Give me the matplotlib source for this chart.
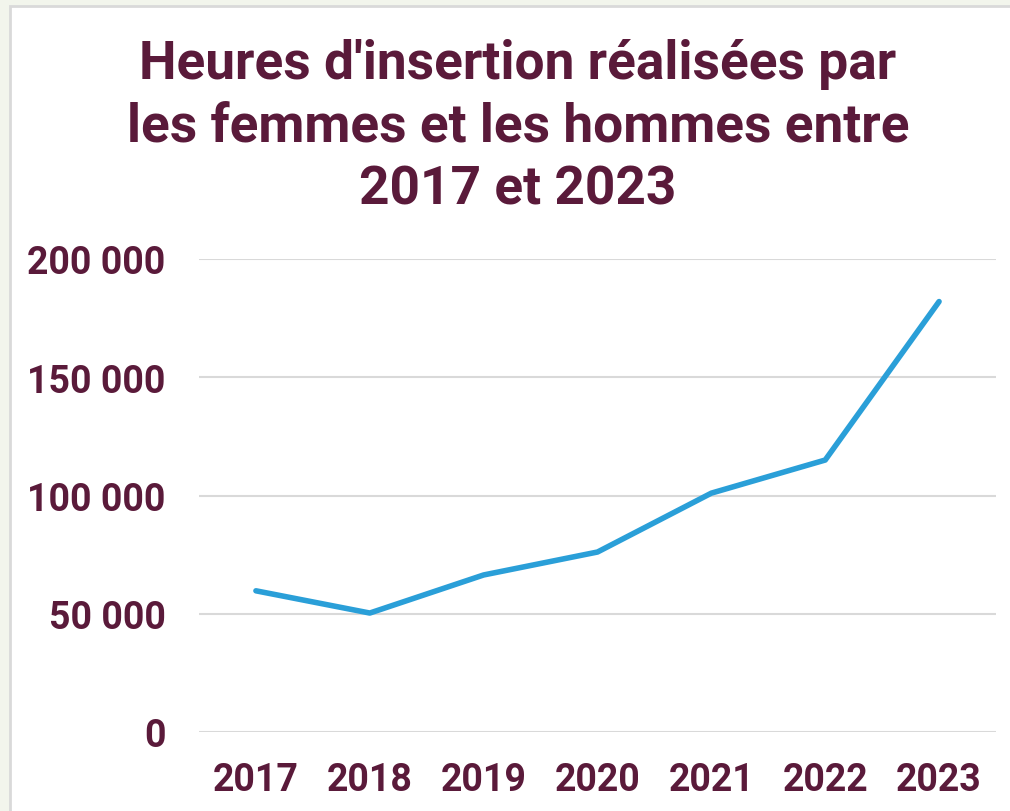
import matplotlib
matplotlib.use('Agg')
import matplotlib.pyplot as plt
from matplotlib.patches import Rectangle
from matplotlib.ticker import FuncFormatter

TEXT_COLOR = '#5a1a3a'
LINE_COLOR = '#2a9fd8'
GRID_COLOR = '#d9d9d9'
OUTER_BG = '#f2f5ec'

years = ['2017', '2018', '2019', '2020', '2021', '2022', '2023']
hours = [59700, 50300, 66400, 76100, 101000, 115000, 182000]
y_ticks = [0, 50000, 100000, 150000, 200000]

plt.rcParams['font.family'] = ['Roboto', 'DejaVu Sans']
plt.rcParams['font.weight'] = 'bold'

W, H = 1010, 812
fig = plt.figure(figsize=(W / 100, H / 100), dpi=100)
fig.patch.set_facecolor(OUTER_BG)

# white card with thin grey border
fig.patches.append(Rectangle((10 / W, -0.05), 1.1, 1 - 7 / H + 0.05,
                             transform=fig.transFigure, facecolor='white',
                             edgecolor=GRID_COLOR, linewidth=2, zorder=-5))

ax = fig.add_axes([199 / W, 1 - 733 / H, (996 - 199) / W, (733 - 260) / H])
ax.set_facecolor('none')
ax.set_zorder(2)

x = list(range(len(years)))
ax.plot(x, hours, color=LINE_COLOR, linewidth=4.0, solid_capstyle='round',
        solid_joinstyle='round', zorder=3)

ax.set_xlim(-0.5, len(years) - 0.5)
ax.set_ylim(0, 200000)
ax.set_xticks(x)
ax.set_xticklabels(years)
ax.set_yticks(y_ticks)
ax.yaxis.set_major_formatter(FuncFormatter(lambda v, p: f'{int(v):,}'.replace(',', ' ')))
ax.grid(axis='y', color=GRID_COLOR, linewidth=1.5, zorder=0)
ax.tick_params(length=0, labelsize=27, labelcolor=TEXT_COLOR)
ax.tick_params(axis='y', pad=24)
ax.tick_params(axis='x', pad=21)
for spine in ax.spines.values():
    spine.set_visible(False)

fig.text(518 / W, 1 - 127 / H,
         "Heures d'insertion réalisées par\nles femmes et les hommes entre\n2017 et 2023",
         ha='center', va='center', fontsize=38.3, fontweight='bold',
         color=TEXT_COLOR, linespacing=1.3, zorder=5)

fig.savefig('out.png', dpi=100, facecolor=OUTER_BG)
